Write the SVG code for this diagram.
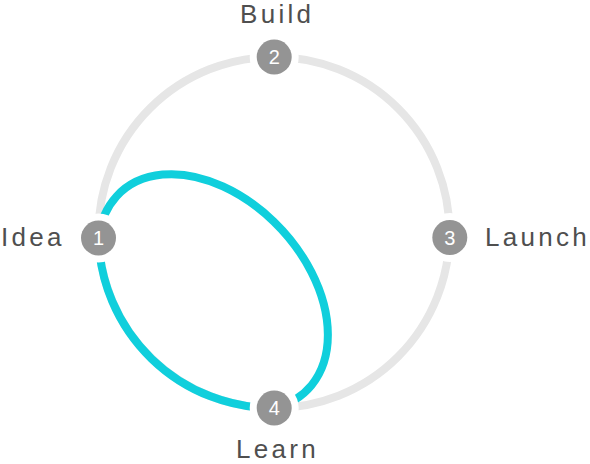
<svg xmlns="http://www.w3.org/2000/svg" width="590" height="464" viewBox="0 0 590 464">
<style>
.track{fill:none;stroke:#e6e6e6;stroke-width:8}
.loop{fill:none;stroke:#10cfdc;stroke-width:8}
.node{fill:#949494;stroke:#ffffff;stroke-width:14;paint-order:stroke}
.num{font-family:"Liberation Sans",Arial,sans-serif;font-size:20px;fill:#ffffff;text-anchor:middle}
.lbl{font-family:"Liberation Sans",Arial,sans-serif;font-size:26px;fill:#4f4f4f;letter-spacing:3.3px}
</style>
<rect width="590" height="464" fill="#ffffff"/>
<g id="connectors">
<circle class="track" cx="274" cy="232.5" r="175.5"/>
<path class="loop" d="M 98.5 238 A 174.8 174.8 0 0 0 274 408"/>
<path class="loop" d="M 98.5 238 A 136 93 47 1 1 274 408"/>
</g>
<g id="node1">
<circle class="node" cx="98.5" cy="238" r="17.5"/>
<text class="num" x="98.5" y="245">1</text>
<text class="lbl" x="1" y="246">Idea</text>
</g>
<g id="node2">
<circle class="node" cx="274.2" cy="57" r="17.5"/>
<text class="num" x="274.2" y="64">2</text>
<text class="lbl" x="240" y="22.5">Build</text>
</g>
<g id="node3">
<circle class="node" cx="449.8" cy="237.5" r="17.5"/>
<text class="num" x="449.8" y="244.5">3</text>
<text class="lbl" x="485" y="246">Launch</text>
</g>
<g id="node4">
<circle class="node" cx="274.2" cy="408" r="17.5"/>
<text class="num" x="274.2" y="415">4</text>
<text class="lbl" x="236" y="458">Learn</text>
</g>
</svg>
